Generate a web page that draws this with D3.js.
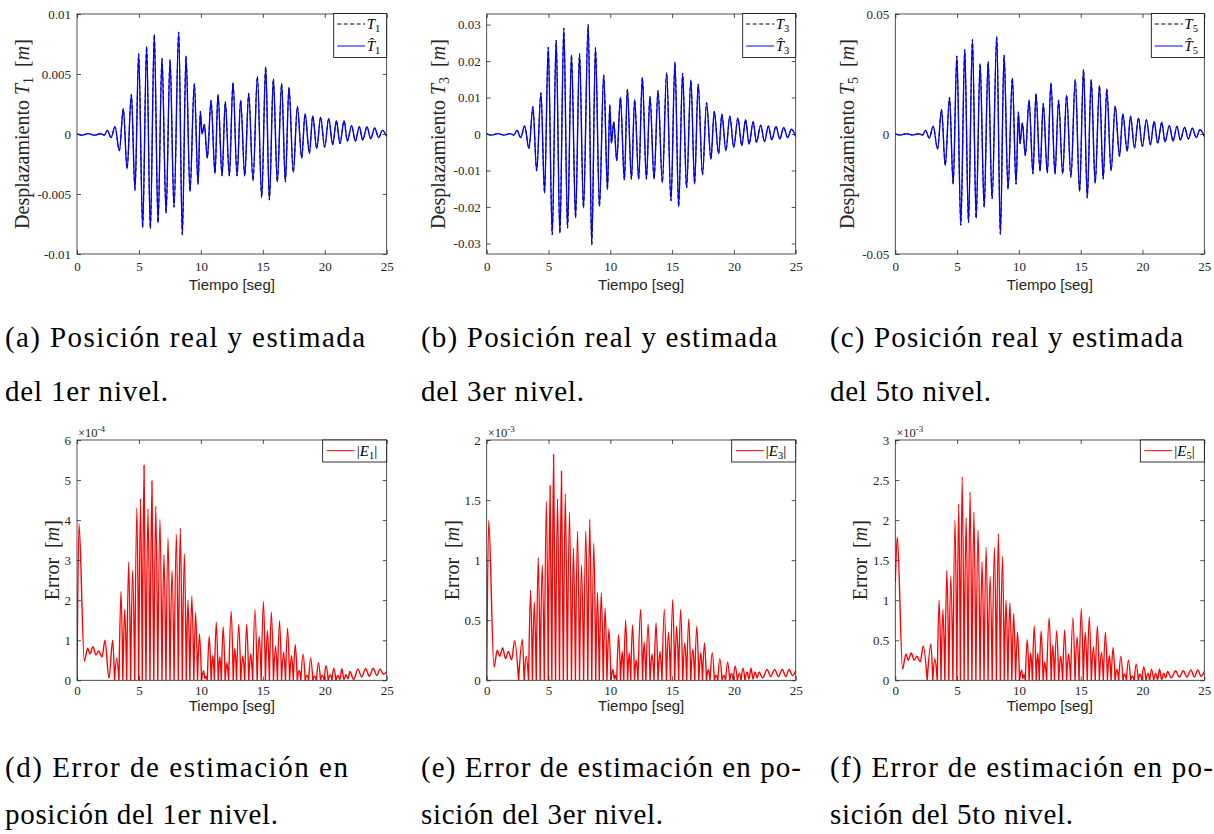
<!DOCTYPE html>
<html>
<head>
<meta charset="utf-8">
<script src="https://cdnjs.cloudflare.com/ajax/libs/d3/7.8.5/d3.min.js"></script>
<style>
body{margin:0;background:#fff;}
#canvas{width:1214px;height:834px;}
</style>
</head>
<body>
<div id="canvas"></div>
<script>
var svg;
var width = 1214;
var height = 834;

var tiempoTicks = [0, 5, 10, 15, 20, 25];

// instantes de los extremos (picos / valles) de la posicion
var tPos = [0, 0.4, 0.9, 1.4, 1.9, 2.2,
  2.45, 2.75, 3.07, 3.42, 3.74, 4.04, 4.39, 4.68, 4.98, 5.30,
  5.62, 5.92, 6.24, 6.54, 6.86, 7.19, 7.51, 7.83, 8.21, 8.50,
  8.80, 9.12, 9.47, 9.77, 9.96, 10.09, 10.28, 10.52, 10.82, 11.14,
  11.38, 11.71, 11.97, 12.30, 12.59, 12.92, 13.21, 13.54, 13.86, 14.21,
  14.56, 14.91, 15.23, 15.53, 15.85, 16.17, 16.52, 16.82, 17.11, 17.46,
  17.79, 18.14, 18.41, 18.76, 19.03, 19.35, 19.67, 19.99, 20.32, 20.64,
  20.94, 21.23, 21.56, 21.82, 22.17, 22.47, 22.79, 23.06, 23.41, 23.71,
  24.03, 24.35, 24.65, 25];

var T1 = [0, -0.0001, 0.00003, -0.0001, 0.00002, -0.0001,
  0.0003, -0.0003, 0.0006, -0.0014, 0.0021, -0.0029, 0.0033, -0.0047, 0.0067, -0.0078,
  0.0073, -0.0079, 0.0083, -0.0074, 0.0063, -0.0066, 0.0062, -0.0061, 0.0085, -0.0084,
  0.0065, -0.0048, 0.0042, -0.0042, 0.0019, 0.0000, 0.0008, -0.0020, 0.0028, -0.0033,
  0.0033, -0.0035, 0.0027, -0.0035, 0.0043, -0.0035, 0.0028, -0.0035, 0.0034, -0.0039,
  0.0048, -0.0053, 0.0056, -0.0055, 0.0046, -0.0040, 0.0042, -0.0040, 0.0039, -0.0032,
  0.0023, -0.0020, 0.0017, -0.0016, 0.0015, -0.0012, 0.0014, -0.0011, 0.0013, -0.0009,
  0.0011, -0.0008, 0.0011, -0.0006, 0.0007, -0.0006, 0.0006, -0.0005, 0.0006, -0.0004,
  0.0005, -0.0003, 0.0003, -0.0002];

var T3 = [0, -0.0003, 0.0001, -0.0003, 0.0001, -0.0003,
  0.0010, -0.0010, 0.0022, -0.0040, 0.0075, -0.0101, 0.0113, -0.0162, 0.0238, -0.0276,
  0.0257, -0.0272, 0.0290, -0.0258, 0.0217, -0.0230, 0.0220, -0.0203, 0.0300, -0.0304,
  0.0237, -0.0199, 0.0162, -0.0153, 0.0080, -0.0025, 0.0033, -0.0073, 0.0101, -0.0126,
  0.0123, -0.0124, 0.0094, -0.0124, 0.0155, -0.0124, 0.0103, -0.0124, 0.0119, -0.0133,
  0.0168, -0.0183, 0.0197, -0.0199, 0.0167, -0.0148, 0.0148, -0.0137, 0.0137, -0.0112,
  0.0086, -0.0069, 0.0062, -0.0054, 0.0054, -0.0046, 0.0049, -0.0037, 0.0044, -0.0032,
  0.0039, -0.0028, 0.0034, -0.0023, 0.0024, -0.0021, 0.0022, -0.0016, 0.0021, -0.0014,
  0.0018, -0.0010, 0.0013, -0.0007];

var T5 = [0, -0.0004, 0.0001, -0.0004, 0.0001, -0.0004,
  0.0015, -0.0017, 0.0032, -0.0063, 0.0102, -0.0131, 0.0153, -0.0209, 0.0325, -0.0380,
  0.0352, -0.0369, 0.0394, -0.0351, 0.0292, -0.0305, 0.0301, -0.0270, 0.0405, -0.0418,
  0.0329, -0.0230, 0.0234, -0.0209, 0.0092, -0.0040, 0.0046, -0.0090, 0.0141, -0.0166,
  0.0169, -0.0156, 0.0127, -0.0163, 0.0213, -0.0167, 0.0141, -0.0166, 0.0162, -0.0180,
  0.0227, -0.0240, 0.0269, -0.0267, 0.0227, -0.0205, 0.0202, -0.0188, 0.0188, -0.0153,
  0.0116, -0.0093, 0.0084, -0.0072, 0.0074, -0.0058, 0.0067, -0.0052, 0.0060, -0.0045,
  0.0052, -0.0038, 0.0049, -0.0033, 0.0035, -0.0029, 0.0033, -0.0025, 0.0028, -0.0021,
  0.0024, -0.0015, 0.0018, -0.0010];

// error absoluto: picos y ceros (E1 en 1e-4, E3 y E5 en 1e-3)
var tErr = [0, 0.16, 0.59, 0.86, 1.05, 1.29, 1.53, 1.75, 2.02, 2.26, 2.58, 2.88, 3.03, 3.20, 3.39,
  3.55, 3.70, 3.85, 4.01, 4.17, 4.33, 4.49, 4.66, 4.83, 4.98, 5.13, 5.27, 5.41, 5.57,
  5.73, 5.89, 6.05, 6.20, 6.36, 6.52, 6.70, 6.86, 7.02, 7.18, 7.35, 7.51, 7.67, 7.84,
  8.02, 8.18, 8.34, 8.50, 8.67, 8.82, 8.96, 9.11, 9.27, 9.43, 9.58, 9.73, 9.89, 10.05,
  10.22, 10.32, 10.40, 10.52,
  10.67, 10.83, 10.96, 11.09, 11.24, 11.40, 11.53, 11.65, 11.80, 11.96, 12.09, 12.24,
  12.45, 12.61, 12.74, 12.88, 13.06, 13.22, 13.38, 13.54, 13.70, 13.86, 14.02, 14.18,
  14.37, 14.54, 14.71, 14.87, 15.05, 15.21, 15.37, 15.53, 15.69, 15.86, 16.03, 16.18,
  16.35, 16.51, 16.68, 16.83, 17.00, 17.16, 17.32, 17.46, 17.62, 17.78,
  17.93, 18.07, 18.25, 18.42, 18.56, 18.70, 18.86, 19.04, 19.19, 19.33, 19.49, 19.66,
  19.80, 19.95, 20.10, 20.28, 20.44, 20.58, 20.73, 20.90, 21.06, 21.22, 21.38, 21.55,
  21.71, 21.88, 22.03, 22.33, 22.68, 22.98, 23.30, 23.60, 23.91, 24.20, 24.47, 24.73, 25.00];

var E1 = [0, 3.9, 0.48, 0.8, 0.66, 0.84, 0.63, 0.73, 0.58, 1.0, 0.05, 1.0, 0, 0.55, 0,
  2.22, 0, 1.76, 0, 2.95, 0, 2.75, 0, 4.3, 0, 4.53, 0, 5.37, 0,
  4.28, 0, 4.98, 0, 4.35, 0, 4.02, 0, 3.13, 0, 3.55, 0, 2.74, 0,
  3.65, 0, 3.8, 0, 3.16, 0, 2.0, 0, 2.1, 0, 1.69, 0, 1.16, 0,
  0.24, 0.04, 0.1, 0,
  1.1, 0, 0.62, 0, 1.45, 0, 0.59, 0, 1.34, 0, 0.44, 0,
  1.72, 0, 0.8, 0, 1.4, 0, 0.61, 0, 1.41, 0, 0.66, 0,
  1.76, 0, 1.1, 0, 1.97, 0, 1.24, 0, 1.7, 0, 0.85, 0,
  1.49, 0, 0.7, 0, 1.3, 0, 0.62, 0, 0.89, 0,
  0.25, 0, 0.65, 0, 0.13, 0, 0.55, 0, 0.1, 0, 0.44, 0,
  0.13, 0, 0.37, 0, 0.14, 0, 0.30, 0, 0.12, 0.02, 0.29, 0.02,
  0.14, 0.04, 0.22, 0.02, 0.28, 0.08, 0.29, 0.1, 0.30, 0.12, 0.28, 0.15, 0.22];

var E3 = [0, 1.33, 0.11, 0.25, 0.2, 0.27, 0.18, 0.24, 0.17, 0.33, 0, 0.34, 0, 0.2, 0,
  0.75, 0, 0.65, 0, 1.02, 0, 0.96, 0, 1.49, 0, 1.62, 0, 1.88, 0,
  1.51, 0, 1.74, 0, 1.55, 0, 1.4, 0, 1.1, 0, 1.24, 0, 0.96, 0,
  1.24, 0, 1.34, 0, 1.14, 0, 0.73, 0, 0.73, 0, 0.6, 0, 0.43, 0,
  0.09, 0.01, 0.04, 0,
  0.38, 0, 0.24, 0, 0.5, 0, 0.23, 0, 0.46, 0, 0.17, 0,
  0.59, 0, 0.32, 0, 0.47, 0, 0.22, 0, 0.48, 0, 0.24, 0,
  0.59, 0, 0.4, 0, 0.67, 0, 0.45, 0, 0.59, 0, 0.31, 0,
  0.51, 0, 0.26, 0, 0.45, 0, 0.23, 0, 0.31, 0,
  0.09, 0, 0.23, 0, 0.04, 0, 0.18, 0, 0.04, 0, 0.15, 0,
  0.06, 0, 0.12, 0, 0.06, 0, 0.1, 0, 0.07, 0.01, 0.1, 0.01,
  0.07, 0.02, 0.07, 0.02, 0.09, 0.03, 0.09, 0.03, 0.09, 0.03, 0.09, 0.04, 0.08];

var E5 = [1.22, 1.79, 0.14, 0.33, 0.25, 0.34, 0.25, 0.3, 0.23, 0.43, 0, 0.45, 0, 0.27, 0,
  1.0, 0, 0.88, 0, 1.37, 0, 1.3, 0, 2.0, 0, 2.2, 0, 2.54, 0,
  2.03, 0, 2.35, 0, 2.1, 0, 1.88, 0, 1.48, 0, 1.66, 0, 1.3, 0,
  1.66, 0, 1.83, 0, 1.55, 0, 1.0, 0, 0.97, 0, 0.83, 0, 0.6, 0,
  0.13, 0.02, 0.07, 0,
  0.51, 0, 0.34, 0, 0.68, 0, 0.34, 0, 0.62, 0, 0.23, 0,
  0.78, 0, 0.44, 0, 0.62, 0, 0.30, 0, 0.63, 0, 0.33, 0,
  0.78, 0, 0.54, 0, 0.89, 0, 0.6, 0, 0.79, 0, 0.42, 0,
  0.68, 0, 0.35, 0, 0.6, 0, 0.31, 0, 0.41, 0,
  0.14, 0, 0.3, 0, 0.08, 0, 0.25, 0, 0.05, 0, 0.2, 0,
  0.08, 0, 0.17, 0, 0.09, 0, 0.14, 0, 0.09, 0.01, 0.14, 0.01,
  0.09, 0.03, 0.11, 0.03, 0.12, 0.04, 0.12, 0.04, 0.13, 0.04, 0.13, 0.05, 0.11];

var yTicksT1 = [-0.01, -0.005, 0, 0.005, 0.01];
var yLabelsT1 = ["-0.01", "-0.005", "0", "0.005", "0.01"];
var yTicksT3 = [-0.03, -0.02, -0.01, 0, 0.01, 0.02, 0.03];
var yLabelsT3 = ["-0.03", "-0.02", "-0.01", "0", "0.01", "0.02", "0.03"];
var yTicksT5 = [-0.05, 0, 0.05];
var yLabelsT5 = ["-0.05", "0", "0.05"];
var yTicksE1 = [0, 1, 2, 3, 4, 5, 6];
var yLabelsE1 = ["0", "1", "2", "3", "4", "5", "6"];
var yTicksE3 = [0, 0.5, 1, 1.5, 2];
var yLabelsE3 = ["0", "0.5", "1", "1.5", "2"];
var yTicksE5 = [0, 0.5, 1, 1.5, 2, 2.5, 3];
var yLabelsE5 = ["0", "0.5", "1", "1.5", "2", "2.5", "3"];

var niveles = ["1", "3", "5"];
var exponentes = ["-4", "-3", "-3"];

var captionsTop = [
  ["(a) Posición real y estimada", "del 1er nivel."],
  ["(b) Posición real y estimada", "del 3er nivel."],
  ["(c) Posición real y estimada", "del 5to nivel."]];
var captionsBottom = [
  ["(d) Error de estimación en", "posición del 1er nivel."],
  ["(e) Error de estimación en po-", "sición del 3er nivel."],
  ["(f) Error de estimación en po-", "sición del 5to nivel."]];

var gris = "#262626";
var serif = "Liberation Serif";
var sans = "Liberation Sans";

function splitLobes(t, v){
  // corta la serie en cada cero para que |E| tenga cuspides
  var out = [], cur = [];
  for(var i=0; i<t.length; i++){
    cur.push([t[i], v[i]]);
    if(v[i] === 0 && cur.length > 1){
      out.push(cur);
      cur = [[t[i], v[i]]];
    }
  }
  if(cur.length > 1) out.push(cur);
  return out;
}

function drawFrame(g, p, x, y){
  var pad = p.row == 0 ? 8 : 5;
  var ax = g.append("g").attr("transform", "translate(0," + p.y1 + ")")
    .call(d3.axisBottom(x).tickValues(tiempoTicks).tickSize(-4).tickPadding(pad)
      .tickFormat(function(d){ return String(d); }));
  var ay = g.append("g").attr("transform", "translate(" + p.x0 + ",0)")
    .call(d3.axisLeft(y).tickValues(p.yt).tickSize(-4).tickPadding(6)
      .tickFormat(function(d, i){ return p.yl[i]; }));
  var at = g.append("g").attr("transform", "translate(0," + p.y0 + ")")
    .call(d3.axisTop(x).tickValues(tiempoTicks).tickSize(-4).tickFormat(""));
  var ar = g.append("g").attr("transform", "translate(" + p.x1 + ",0)")
    .call(d3.axisRight(y).tickValues(p.yt).tickSize(-4).tickFormat(""));

  [ax, ay, at, ar].forEach(function(a){
    a.select(".domain").remove();
    a.selectAll(".tick line").attr("stroke", gris).attr("stroke-width", 0.8);
    a.selectAll(".tick text").attr("fill", gris).attr("font-family", serif).attr("font-size", 13);
  });

  g.append("rect")
    .attr("x", p.x0).attr("y", p.y0)
    .attr("width", p.x1 - p.x0).attr("height", p.y1 - p.y0)
    .attr("fill", "none").attr("stroke", gris).attr("stroke-width", 0.8);

  g.append("text")
    .attr("x", (p.x0 + p.x1) / 2)
    .attr("y", p.y1 + (p.row == 0 ? 36 : 31))
    .attr("text-anchor", "middle")
    .attr("font-family", sans).attr("font-size", 15).attr("fill", gris)
    .text("Tiempo [seg]");
}

function yLabel(g, p, isPos){
  var cx = p.x0 - p.ylabOff;
  var cy = (p.y0 + p.y1) / 2;
  var t = g.append("text")
    .attr("transform", "translate(" + cx + "," + cy + ") rotate(-90)")
    .attr("text-anchor", "middle")
    .attr("dy", "0.35em")
    .attr("font-family", serif).attr("font-size", 20).attr("fill", gris);
  if(isPos){
    t.append("tspan").text("Desplazamiento ");
    t.append("tspan").attr("font-style", "italic").text("T");
    t.append("tspan").attr("font-size", 14).attr("dy", 4).text(p.nivel);
    t.append("tspan").attr("dy", -4).text("\u2002[");
  } else {
    t.append("tspan").text("Error\u2002[");
  }
  t.append("tspan").attr("font-style", "italic").text("m");
  t.append("tspan").text("]");
}

function drawPosPanel(p){
  var g = svg.append("g");
  var x = d3.scaleLinear().domain([0, 25]).range([p.x0, p.x1]);
  var y = d3.scaleLinear().domain(p.ydom).range([p.y1, p.y0]);

  var clipId = "clip" + p.id;
  svg.append("clipPath").attr("id", clipId).append("rect")
    .attr("x", p.x0).attr("y", p.y0).attr("width", p.x1 - p.x0).attr("height", p.y1 - p.y0);

  var line = d3.line()
    .x(function(d){ return x(d[0]); })
    .y(function(d){ return y(d[1]); })
    .curve(d3.curveMonotoneX);
  var data = d3.zip(p.t, p.v);

  var lines = g.append("g").attr("clip-path", "url(#" + clipId + ")");
  lines.append("path").attr("d", line(data))
    .attr("fill", "none").attr("stroke", "#000").attr("stroke-width", 1)
    .attr("stroke-dasharray", "4,2.5");
  lines.append("path").attr("d", line(data))
    .attr("fill", "none").attr("stroke", "#0000ff").attr("stroke-width", 1.4);

  drawFrame(g, p, x, y);
  yLabel(g, p, true);

  // leyenda
  var lw = 53, lh = 44;
  var lx = p.x1 - lw, ly = p.y0 - 0.5;
  g.append("rect").attr("x", lx).attr("y", ly).attr("width", lw).attr("height", lh)
    .attr("fill", "#fff").attr("stroke", "#000").attr("stroke-width", 0.8);
  [0, 1].forEach(function(k){
    var yy = ly + 10.5 + k * 22;
    g.append("line").attr("x1", lx + 3.5).attr("x2", lx + 31.5).attr("y1", yy).attr("y2", yy)
      .attr("stroke", k == 0 ? "#000" : "#0000ff").attr("stroke-width", 1)
      .attr("stroke-dasharray", k == 0 ? "4,2.5" : null);
    var t = g.append("text").attr("x", lx + 33).attr("y", yy + 4.5)
      .attr("font-family", serif).attr("font-size", 15).attr("fill", "#000");
    t.append("tspan").attr("font-style", "italic").text(k == 0 ? "T" : "T\u0302");
    t.append("tspan").attr("font-size", 10.5).attr("dy", 3).text(p.nivel);
  });
}

function drawErrPanel(p){
  var g = svg.append("g");
  var x = d3.scaleLinear().domain([0, 25]).range([p.x0, p.x1]);
  var y = d3.scaleLinear().domain(p.ydom).range([p.y1, p.y0]);

  var clipId = "clip" + p.id;
  svg.append("clipPath").attr("id", clipId).append("rect")
    .attr("x", p.x0).attr("y", p.y0 - 1).attr("width", p.x1 - p.x0).attr("height", p.y1 - p.y0 + 1);

  var line = d3.line()
    .x(function(d){ return x(d[0]); })
    .y(function(d){ return y(d[1]); })
    .curve(d3.curveMonotoneX);
  var d = splitLobes(p.t, p.v).map(function(l){ return line(l); }).join("");

  g.append("g").attr("clip-path", "url(#" + clipId + ")")
    .append("path").attr("d", d)
    .attr("fill", "none").attr("stroke", "#ff0000").attr("stroke-width", 1.4)
    .attr("stroke-linejoin", "round");

  drawFrame(g, p, x, y);
  yLabel(g, p, false);

  // multiplicador x10^n
  var m = g.append("text").attr("x", p.x0 + 1).attr("y", p.y0 - 3)
    .attr("font-family", serif).attr("font-size", 12.5).attr("fill", gris);
  m.append("tspan").text("\u00d710");
  m.append("tspan").attr("font-size", 9).attr("dy", -5).text(p.exp);

  // leyenda
  var lw = 64, lh = 22;
  var lx = p.x1 - lw, ly = p.y0;
  g.append("rect").attr("x", lx).attr("y", ly).attr("width", lw).attr("height", lh)
    .attr("fill", "#fff").attr("stroke", "#000").attr("stroke-width", 0.8);
  g.append("line").attr("x1", lx + 4).attr("x2", lx + 32).attr("y1", ly + 10.7).attr("y2", ly + 10.7)
    .attr("stroke", "#ff0000").attr("stroke-width", 1);
  var t = g.append("text").attr("x", lx + 34).attr("y", ly + 15.5)
    .attr("font-family", serif).attr("font-size", 15).attr("fill", "#000");
  t.append("tspan").text("|");
  t.append("tspan").attr("font-style", "italic").text("E");
  t.append("tspan").attr("font-size", 10.5).attr("dy", 3).text(p.nivel);
  t.append("tspan").attr("dy", -3).text("|");
}

function drawCaption(x, y, txt, len){
  svg.append("text").attr("x", x).attr("y", y)
    .attr("font-family", serif).attr("font-size", 29).attr("fill", "#000")
    .attr("textLength", len).attr("lengthAdjust", "spacing")
    .text(txt);
}

function initializeLayout(){
  svg = d3.select("#canvas").append("svg")
    .attr("width", width).attr("height", height)
    .style("display", "block");

  var cols = [[77, 386.7], [486.7, 795.7], [895.3, 1204.3]];
  var posSeries = [T1, T3, T5];
  var errSeries = [E1, E3, E5];
  var posDom = [[-0.01, 0.01], [-0.0329, 0.0329], [-0.05, 0.05]];
  var errDom = [[0, 6], [0, 2], [0, 3]];
  var posTicks = [[yTicksT1, yLabelsT1], [yTicksT3, yLabelsT3], [yTicksT5, yLabelsT5]];
  var errTicks = [[yTicksE1, yLabelsE1], [yTicksE3, yLabelsE3], [yTicksE5, yLabelsE5]];
  var posLabOff = [55, 49, 48];
  var errLabOff = [25, 35, 35];

  for(var i=0; i<3; i++){
    drawPosPanel({id: "p" + i, row: 0, x0: cols[i][0], x1: cols[i][1], y0: 14, y1: 254,
      ydom: posDom[i], yt: posTicks[i][0], yl: posTicks[i][1],
      t: tPos, v: posSeries[i], nivel: niveles[i], ylabOff: posLabOff[i]});
    drawErrPanel({id: "e" + i, row: 1, x0: cols[i][0], x1: cols[i][1], y0: 440, y1: 680.3,
      ydom: errDom[i], yt: errTicks[i][0], yl: errTicks[i][1],
      t: tErr, v: errSeries[i], nivel: niveles[i], exp: exponentes[i], ylabOff: errLabOff[i]});
  }

  var capX = [5, 421, 830];
  var topLen = [[360, 163], [356, 163], [353, 161]];
  var botLen = [[343, 273], [380, 242], [383, 243]];
  for(var j=0; j<3; j++){
    drawCaption(capX[j], 347, captionsTop[j][0], topLen[j][0]);
    drawCaption(capX[j], 401, captionsTop[j][1], topLen[j][1]);
    drawCaption(capX[j], 777, captionsBottom[j][0], botLen[j][0]);
    drawCaption(capX[j], 824, captionsBottom[j][1], botLen[j][1]);
  }
}

window.onload = initializeLayout;
</script>
</body>
</html>
